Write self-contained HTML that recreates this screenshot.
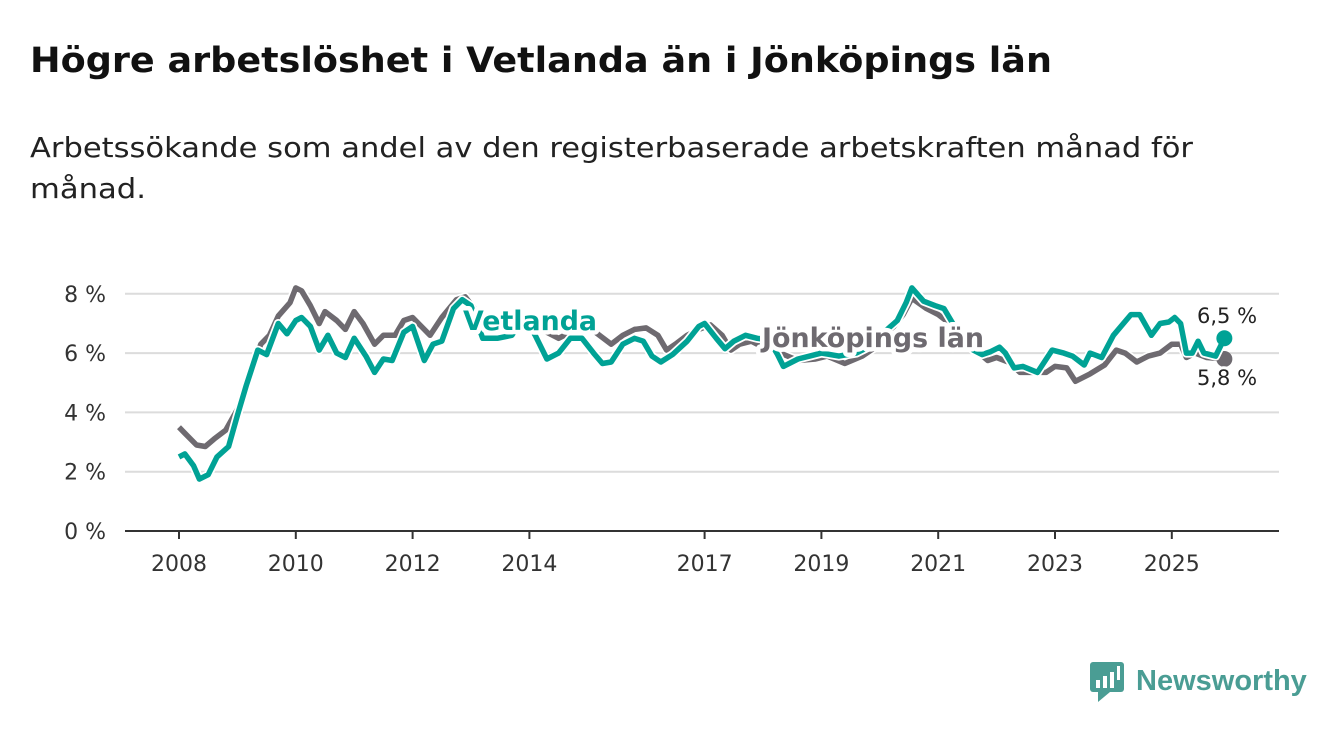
<!DOCTYPE html>
<html><head><meta charset="utf-8"><style>
body{margin:0;width:1340px;height:734px;background:#fff;font-family:"Liberation Sans","DejaVu Sans",sans-serif;overflow:hidden}
</style></head><body>
<svg width="1340" height="734" font-family="'DejaVu Sans','Liberation Sans',sans-serif">
<text x="30" y="72" font-size="35" font-weight="bold" fill="#111" textLength="1022" lengthAdjust="spacingAndGlyphs">Högre arbetslöshet i Vetlanda än i Jönköpings län</text>
<text x="30" y="157" font-size="28" fill="#222" textLength="1163" lengthAdjust="spacingAndGlyphs">Arbetssökande som andel av den registerbaserade arbetskraften månad för</text>
<text x="30" y="198" font-size="28" fill="#222" textLength="116" lengthAdjust="spacingAndGlyphs">månad.</text>
<g id="grid"></g><g id="axes"></g><g id="series"></g><g id="labels"></g>
<g>
<rect x="1090" y="662" width="34" height="30" rx="3" fill="#4a9d94"/>
<polygon points="1098,692 1110,692 1098,702" fill="#4a9d94"/>
<rect x="1096" y="680" width="4" height="8" fill="#fff"/><rect x="1103" y="676" width="4" height="12" fill="#fff"/><rect x="1110" y="672" width="4" height="16" fill="#fff"/><rect x="1117" y="666" width="3" height="14" fill="#fff"/>
<text x="1136" y="690" font-size="29" font-weight="bold" fill="#4a9d94" font-family="'Liberation Sans',sans-serif">Newsworthy</text>
</g>
</svg>
<script>
const jonDates=[2008.0,2008.1,2008.3,2008.45,2008.6,2008.8,2009.0,2009.2,2009.4,2009.55,2009.7,2009.9,2010.0,2010.1,2010.25,2010.4,2010.5,2010.7,2010.85,2011.0,2011.15,2011.35,2011.5,2011.7,2011.85,2012.0,2012.3,2012.5,2012.75,2012.9,2013.1,2013.5,2013.8,2014.0,2014.3,2014.5,2014.8,2015.0,2015.2,2015.4,2015.6,2015.8,2016.0,2016.2,2016.35,2016.5,2016.7,2016.9,2017.1,2017.3,2017.45,2017.6,2017.8,2018.0,2018.3,2018.6,2018.9,2019.1,2019.4,2019.7,2020.0,2020.2,2020.4,2020.55,2020.8,2021.0,2021.2,2021.5,2021.7,2021.85,2022.0,2022.2,2022.4,2022.6,2022.85,2023.0,2023.2,2023.35,2023.6,2023.85,2024.05,2024.2,2024.4,2024.6,2024.8,2025.0,2025.15,2025.25,2025.4,2025.6,2025.9];
const jonValues=[3.5,3.3,2.9,2.85,3.1,3.4,4.1,5.2,6.3,6.6,7.25,7.7,8.2,8.1,7.6,7.0,7.4,7.1,6.8,7.4,7.0,6.3,6.6,6.6,7.1,7.2,6.6,7.2,7.8,7.9,7.4,7.2,7.0,7.2,6.7,6.5,6.8,6.9,6.6,6.3,6.6,6.8,6.85,6.6,6.1,6.3,6.6,6.8,6.95,6.6,6.1,6.3,6.4,6.2,6.0,5.75,5.8,5.9,5.65,5.9,6.3,6.8,7.3,7.85,7.5,7.3,7.0,6.4,6.0,5.75,5.85,5.7,5.35,5.35,5.35,5.55,5.5,5.05,5.3,5.6,6.1,6.0,5.7,5.9,6.0,6.3,6.3,5.85,6.0,5.85,5.8];
const vetDates=[2008.0,2008.1,2008.25,2008.35,2008.5,2008.65,2008.85,2009.0,2009.15,2009.35,2009.5,2009.7,2009.85,2010.0,2010.1,2010.25,2010.4,2010.55,2010.7,2010.85,2011.0,2011.2,2011.35,2011.5,2011.65,2011.85,2012.0,2012.2,2012.35,2012.5,2012.7,2012.85,2013.0,2013.2,2013.45,2013.7,2013.9,2014.1,2014.3,2014.5,2014.7,2014.9,2015.1,2015.25,2015.4,2015.6,2015.8,2015.95,2016.1,2016.25,2016.45,2016.7,2016.9,2017.0,2017.2,2017.35,2017.5,2017.7,2017.9,2018.1,2018.25,2018.35,2018.6,2018.8,2019.0,2019.3,2019.6,2019.9,2020.1,2020.3,2020.45,2020.55,2020.75,2020.95,2021.1,2021.4,2021.6,2021.75,2021.9,2022.05,2022.15,2022.3,2022.45,2022.7,2022.95,2023.15,2023.3,2023.5,2023.6,2023.8,2024.0,2024.3,2024.45,2024.65,2024.8,2024.95,2025.05,2025.15,2025.25,2025.35,2025.45,2025.55,2025.75,2025.9];
const vetValues=[2.5,2.6,2.2,1.75,1.9,2.5,2.85,3.9,4.9,6.1,5.95,7.0,6.65,7.1,7.2,6.9,6.1,6.6,6.0,5.85,6.5,5.9,5.35,5.8,5.75,6.7,6.9,5.75,6.3,6.4,7.5,7.8,7.6,6.5,6.5,6.6,7.2,6.6,5.8,6.0,6.5,6.5,6.0,5.65,5.7,6.3,6.5,6.4,5.9,5.7,5.95,6.4,6.9,7.0,6.5,6.15,6.4,6.6,6.5,6.45,5.95,5.55,5.8,5.9,6.0,5.9,6.0,6.3,6.75,7.1,7.7,8.2,7.75,7.6,7.5,6.5,6.1,5.95,6.05,6.2,6.0,5.5,5.55,5.35,6.1,6.0,5.9,5.6,6.0,5.85,6.6,7.3,7.3,6.6,7.0,7.05,7.2,7.0,6.0,6.0,6.4,6.0,5.9,6.5];
const yTicks=[0,2,4,6,8];
const yTickLabels=["0 %","2 %","4 %","6 %","8 %"];
const xTicks=[2008,2010,2012,2014,2017,2019,2021,2023,2025];
const NS="http://www.w3.org/2000/svg";
const X=v=>179+(v-2008)*58.4, Y=v=>531-v*29.65;
function mk(tag,attrs,parent,text){const e=document.createElementNS(NS,tag);for(const k in attrs)e.setAttribute(k,attrs[k]);if(text!=null)e.textContent=text;parent.appendChild(e);return e;}
const grid=document.getElementById('grid'),axes=document.getElementById('axes'),series=document.getElementById('series'),labels=document.getElementById('labels');
yTicks.forEach((t,i)=>{
 if(t>0){const l=mk('line',{x1:125,x2:1279,y1:Y(t),y2:Y(t),stroke:'#dcdcdc','stroke-width':2},grid);
 
 }
 const tx=mk('text',{x:106,y:Y(t)+8,'text-anchor':'end','font-size':22,fill:'#333'},axes,yTickLabels[i]);
 
 
});
const ax=mk('line',{x1:125,x2:1279,y1:531,y2:531,stroke:'#333','stroke-width':2},axes);


xTicks.forEach(t=>{
 mk('line',{x1:X(t),x2:X(t),y1:531,y2:539,stroke:'#333','stroke-width':2},axes);
 const tx=mk('text',{x:X(t),y:571,'text-anchor':'middle','font-size':22,fill:'#333'},axes,String(t));
 
 
});
function line(d,v,color,name){
 const pts=d.map((x,i)=>X(x).toFixed(1)+','+Y(v[i]).toFixed(1)).join(' ');
 mk('polyline',{points:pts,fill:'none',stroke:'#fff','stroke-width':9,'stroke-linejoin':'round'},series);
 const p=mk('polyline',{points:pts,fill:'none',stroke:color,'stroke-width':5.5,'stroke-linejoin':'round'},series);
 
 
 const c=mk('circle',{cx:X(d[d.length-1]),cy:Y(v[v.length-1]),r:8,fill:color},series);
 
 
}
line(jonDates,jonValues,'#6e6a70','jonkoping-line');
line(vetDates,vetValues,'#00a295','vetlanda-line');
function lab(x,y,t,color,size,bold,name,len){
 const extra=len?{textLength:len,lengthAdjust:'spacingAndGlyphs'}:{};
 mk('text',Object.assign({x,y,'font-size':size,'font-weight':bold?'bold':'normal',fill:'none',stroke:'#fff','stroke-width':bold?9:6,'stroke-linejoin':'round'},extra),labels,t);
 const e=mk('text',Object.assign({x,y,'font-size':size,'font-weight':bold?'bold':'normal',fill:color},extra),labels,t);
 
 
}
lab(463,330,'Vetlanda','#00a295',27,true,'vetlanda-label',134);
lab(762,347,'Jönköpings län','#6e6a70',27,true,'jonkoping-label',222);
lab(1197,323,'6,'+String(vetValues[vetValues.length-1]).split('.')[1]+' %','#222',21,false,'vetlanda-end-value');
lab(1197,385,'5,'+String(jonValues[jonValues.length-1]).split('.')[1]+' %','#222',21,false,'jonkoping-end-value');
</script>
</body></html>
